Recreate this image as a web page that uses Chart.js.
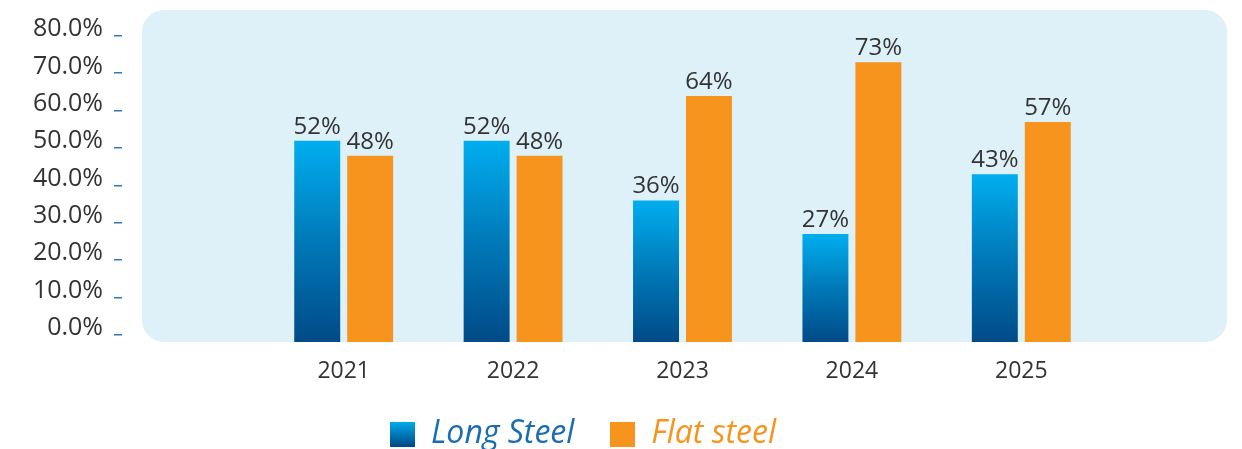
<!DOCTYPE html>
<html>
<head>
<meta charset="utf-8">
<script src="https://cdn.jsdelivr.net/npm/chart.js@4/dist/chart.umd.min.js"></script>
<style>
  html, body { margin: 0; padding: 0; background: #fff; }
  #wrap { width: 1242px; height: 449px; }
</style>
</head>
<body>
<div id="wrap"><canvas id="steelChart" width="1242" height="449"></canvas></div>
<script>
// данные
const years = ['2021', '2022', '2023', '2024', '2025'];
const longSteel = [52, 52, 36, 27, 43];
const flatSteel = [48, 48, 64, 73, 57];
const yTicks = [0, 10, 20, 30, 40, 50, 60, 70, 80];
const seriesNames = ['Long Steel', 'Flat steel'];

const FONT = "'Open Sans', 'Noto Sans', sans-serif";
const TEXT = '#333333';
const BLUE_TOP = '#00aeef';
const BLUE_BOTTOM = '#004a87';
const ORANGE = '#f7941e';

function blueGradient(ctx, top, bottom) {
    const g = ctx.createLinearGradient(0, top, 0, bottom);
    g.addColorStop(0, BLUE_TOP);
    g.addColorStop(0.5, '#0079b8');
    g.addColorStop(1, BLUE_BOTTOM);
    return g;
}

// иконки легенды
function makeIcon(fill) {
    const c = document.createElement('canvas');
    c.width = 25;
    c.height = 25;
    const x = c.getContext('2d');
    x.fillStyle = fill === 'grad' ? blueGradient(x, 0, 25) : fill;
    x.fillRect(0, 0, 25, 25);
    return c;
}
const legendIcons = [makeIcon('grad'), makeIcon(ORANGE)];
const legendColors = ['#1b6cb1', ORANGE];

// фон области графика
const panelBg = {
    id: 'panelBg',
    beforeDraw(chart) {
        const { ctx, chartArea: a } = chart;
        const l = a.left - 117, r = a.right + 121, t = a.top, b = a.bottom, rad = 22;
        ctx.save();
        ctx.fillStyle = '#def0f8';
        ctx.beginPath();
        ctx.moveTo(l + rad, t);
        ctx.lineTo(r - rad, t);
        ctx.arcTo(r, t, r, t + rad, rad);
        ctx.lineTo(r, b - rad);
        ctx.arcTo(r, b, r - rad, b, rad);
        ctx.lineTo(l + rad, b);
        ctx.arcTo(l, b, l, b - rad, rad);
        ctx.lineTo(l, t + rad);
        ctx.arcTo(l, t, l + rad, t, rad);
        ctx.closePath();
        ctx.fill();
        ctx.restore();
    }
};

// черточки у подписей оси Y
const tickDashes = {
    id: 'tickDashes',
    afterDraw(chart) {
        const s = chart.scales.y;
        const ctx = chart.ctx;
        ctx.save();
        ctx.fillStyle = '#2f78b9';
        s.ticks.forEach((t, i) => {
            const py = s.getPixelForTick(i);
            ctx.fillRect(s.right - s.options.ticks.padding + 11, Math.round(py) - 1, 8, 1.5);
        });
        ctx.restore();
    }
};

// подписи значений над столбцами
const valueLabels = {
    id: 'valueLabels',
    afterDatasetsDraw(chart) {
        const ctx = chart.ctx;
        ctx.save();
        ctx.font = '24px ' + FONT;
        ctx.fillStyle = TEXT;
        ctx.textAlign = 'center';
        ctx.textBaseline = 'alphabetic';
        chart.data.datasets.forEach((ds, di) => {
            chart.getDatasetMeta(di).data.forEach((bar, i) => {
                ctx.fillText(ds.data[i] + '%', bar.x, bar.y - 7);
            });
        });
        ctx.restore();
    }
};

const Y_MIN = -1.9;

new Chart(document.getElementById('steelChart'), {
    type: 'bar',
    data: {
        labels: years,
        datasets: [{
            label: seriesNames[0],
            data: longSteel,
            base: Y_MIN,
            backgroundColor: (c) => {
                const chart = c.chart;
                if (!chart.chartArea || c.type !== 'data') return BLUE_TOP;
                const top = chart.scales.y.getPixelForValue(c.raw);
                return blueGradient(chart.ctx, top, chart.chartArea.bottom);
            },
            categoryPercentage: 0.625,
            barPercentage: 0.868
        }, {
            label: seriesNames[1],
            data: flatSteel,
            base: Y_MIN,
            backgroundColor: ORANGE,
            categoryPercentage: 0.625,
            barPercentage: 0.868
        }]
    },
    options: {
        responsive: false,
        animation: false,
        layout: {
            padding: { left: 0, right: 76, top: 10, bottom: 0 }
        },
        scales: {
            x: {
                grid: { display: false, drawTicks: false },
                border: { display: false },
                afterFit: (s) => {
                    s.height = 40;
                },
                ticks: {
                    color: TEXT,
                    padding: 16,
                    font: { family: FONT, size: 23 }
                }
            },
            y: {
                min: Y_MIN,
                max: 87,
                grid: { display: false, drawTicks: false },
                border: { display: false },
                afterBuildTicks: (s) => {
                    s.ticks = yTicks.map(v => ({ value: v }));
                },
                afterFit: (s) => {
                    s.width = 259;
                    s.paddingTop = 0;
                    s.paddingBottom = 0;
                },
                ticks: {
                    color: TEXT,
                    padding: 156,
                    labelOffset: -7,
                    font: { family: FONT, size: 25 },
                    callback: (v) => Number(v).toFixed(1) + '%'
                }
            },
            // пустая ось справа только для отступа
            yRight: {
                position: 'right',
                display: true,
                grid: { display: false, drawTicks: false },
                border: { display: false },
                ticks: { display: false },
                afterFit: (s) => {
                    s.width = 60;
                    s.paddingTop = 0;
                    s.paddingBottom = 0;
                }
            }
        },
        plugins: {
            tooltip: { enabled: false },
            legend: {
                position: 'bottom',
                maxHeight: 67,
                labels: {
                    usePointStyle: true,
                    pointStyleWidth: 25,
                    boxHeight: 25,
                    padding: 36,
                    font: { family: FONT, size: 32, style: 'italic' },
                    generateLabels: (chart) => chart.data.datasets.map((ds, i) => ({
                        text: ds.label,
                        fillStyle: i === 0 ? BLUE_TOP : ORANGE,
                        strokeStyle: 'rgba(0,0,0,0)',
                        lineWidth: 0,
                        pointStyle: legendIcons[i],
                        fontColor: legendColors[i],
                        hidden: false,
                        datasetIndex: i
                    }))
                }
            }
        }
    },
    plugins: [panelBg, tickDashes, valueLabels]
});
</script>
</body>
</html>
